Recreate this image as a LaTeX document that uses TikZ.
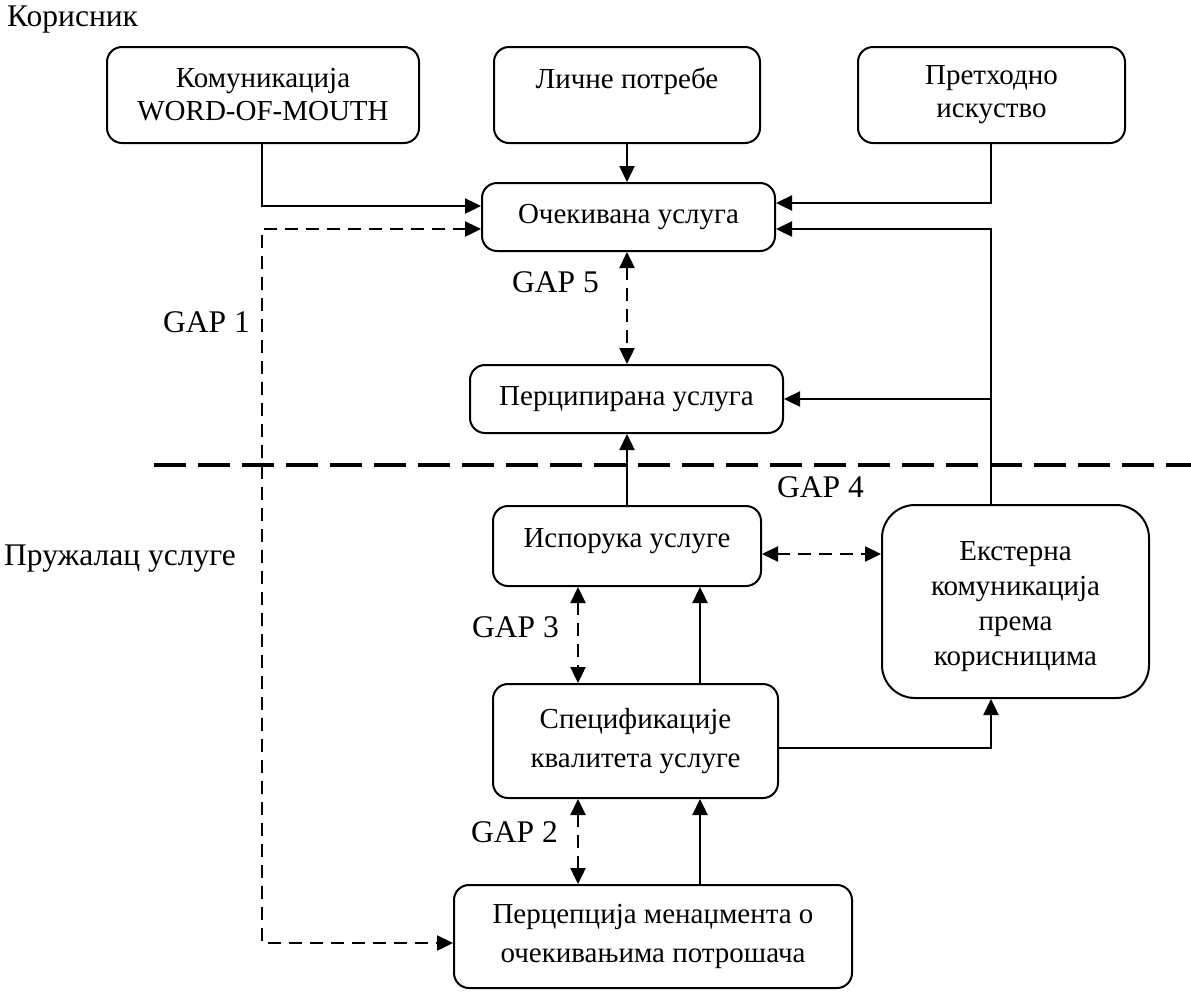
\documentclass[tikz,border=0pt]{standalone}
\usepackage{fontspec}
\setmainfont{Liberation Serif}
\usetikzlibrary{arrows.meta}
\begin{document}
\begin{tikzpicture}[x=1pt,y=-1pt,
  box/.style={draw,line width=2pt,rounded corners=15pt,align=center,inner sep=0pt,
    font=\fontsize{29}{33}\selectfont},
  lbl/.style={font=\fontsize{31.5}{36}\selectfont,inner sep=0pt,anchor=west},
  arr/.style={line width=2.4pt,-{Triangle[length=16pt,width=15pt]}},
  darr/.style={line width=2.4pt,dash pattern=on 13pt off 8pt,
    {Triangle[length=16pt,width=15pt]}-{Triangle[length=16pt,width=15pt]}},
  bigdash/.style={line width=4pt,dash pattern=on 32pt off 12pt}]
\useasboundingbox (0,0) rectangle (1191,991);

% boxes
\node[box,minimum width=312pt,minimum height=96pt] (wom) at (263,95) {Комуникација\\WORD-OF-MOUTH};
\node[box,minimum width=266pt,minimum height=96pt] (lp) at (627,95) {Личне потребе\\\mbox{}};
\node[box,minimum width=267pt,minimum height=96pt] (pi) at (991.5,95) {Претходно\\искуство};
\node[box,minimum width=293pt,minimum height=68pt] (oc) at (628.5,217) {Очекивана услуга};
\node[box,minimum width=313pt,minimum height=68pt] (pe) at (626.5,399) {Перципирана услуга};
\node[box,minimum width=268pt,minimum height=80pt,text height=20pt,text depth=17pt] (is) at (627,546) {Испорука услуге};
\node[box,rounded corners=33pt,minimum width=267pt,minimum height=193pt,
  font=\fontsize{29}{35}\selectfont] (ex) at (1015.5,601.5) {\rule{0pt}{30pt}Екстерна\\комуникација\\према\\корисницима};
\node[box,minimum width=285pt,minimum height=114pt,font=\fontsize{29}{39}\selectfont] (sp) at (635.5,741) {Спецификације\\квалитета услуге};
\node[box,minimum width=398pt,minimum height=103pt,font=\fontsize{29}{39}\selectfont] (pm) at (653,936.5) {Перцепција менаџмента о\\очекивањима потрошача};

% labels
\node[lbl] (kor) at (7,20) {Корисник};
\node[lbl] (pru) at (4,559) {Пружалац услуге};
\node[lbl] (g1) at (163,322) {GAP 1};
\node[lbl] (g5) at (512,282) {GAP 5};
\node[lbl] (g4) at (777,487) {GAP 4};
\node[lbl] (g3) at (472,627) {GAP 3};
\node[lbl] (g2) at (471,832) {GAP 2};

% helper coordinates
\coordinate (vx) at (991,0);
\coordinate (gx) at (578,0);
\coordinate (sx) at (700,0);
\coordinate (lx) at (262,0);
\coordinate (dl) at (154,465);
\coordinate (dr) at (1191,465);

% separator
\draw[bigdash] (dl) -- (dr);

% solid connectors
\draw[arr] (wom.south -| lx) |- ([yshift=11pt]oc.west);
\draw[arr] (lp.south) -- (lp.south |- oc.north);
\draw[arr] (pi.south -| vx) |- ([yshift=14pt]oc.east);
\draw[arr] (ex.north -| vx) |- ([yshift=-12pt]oc.east);
\draw[arr] (vx |- pe.east) -- (pe.east);
\draw[arr] (is.north) -- (is.north |- pe.south);
\draw[arr] (sp.north -| sx) -- (is.south -| sx);
\draw[arr] ([yshift=-7pt]sp.east) -| (vx |- ex.south);
\draw[arr] (pm.north -| sx) -- (sp.south -| sx);

% dashed gaps
\draw[darr] (is.north |- oc.south) -- (is.north |- pe.north);
\draw[darr] ([yshift=-8pt]is.east) -- ([yshift=-8pt]is.east -| ex.west);
\draw[darr] (gx |- is.south) -- (gx |- sp.north);
\draw[darr] (gx |- sp.south) -- (gx |- pm.north);
\draw[darr] ([yshift=-12pt]oc.west) -| (lx |- pm.west) |- ([yshift=-6.5pt]pm.west);
\end{tikzpicture}
\end{document}
